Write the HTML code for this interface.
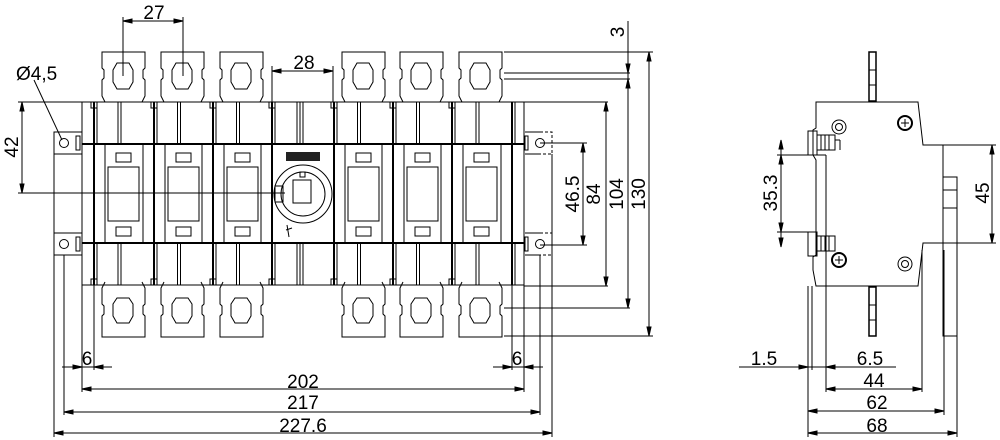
<!DOCTYPE html>
<html><head><meta charset="utf-8"><style>
html,body{margin:0;padding:0;background:#fff;}
svg{display:block;}
text{font-family:"Liberation Sans",sans-serif;font-size:19px;fill:#000;}
</style></head><body>
<svg id="s" width="1000" height="440" viewBox="0 0 1000 440" xmlns="http://www.w3.org/2000/svg">
<g id="g" fill="none" stroke="#000" stroke-width="1"></g>
<g>
<text x="154" y="19" text-anchor="middle">27</text>
<text x="304" y="69" text-anchor="middle">28</text>
<text x="16" y="80">Ø4,5</text>
<text transform="translate(18,147) rotate(-90)" text-anchor="middle">42</text>
<text transform="translate(624,32) rotate(-90)" text-anchor="middle">3</text>
<text transform="translate(579,194) rotate(-90)" text-anchor="middle">46.5</text>
<text transform="translate(600,194) rotate(-90)" text-anchor="middle">84</text>
<text transform="translate(623,194) rotate(-90)" text-anchor="middle">104</text>
<text transform="translate(645,194) rotate(-90)" text-anchor="middle">130</text>
<text x="87" y="365" text-anchor="middle">6</text>
<text x="517" y="365" text-anchor="middle">6</text>
<text x="303" y="388" text-anchor="middle">202</text>
<text x="303" y="409" text-anchor="middle">217</text>
<text x="303" y="432" text-anchor="middle">227.6</text>
<text transform="translate(777,193) rotate(-90)" text-anchor="middle">35.3</text>
<text transform="translate(989,193) rotate(-90)" text-anchor="middle">45</text>
<text x="764" y="365" text-anchor="middle">1.5</text>
<text x="870" y="365" text-anchor="middle">6.5</text>
<text x="874" y="387" text-anchor="middle">44</text>
<text x="877" y="409" text-anchor="middle">62</text>
<text x="877" y="432" text-anchor="middle">68</text>
<rect x="286" y="152" width="34" height="9" fill="#222"/>
</g>
</svg>
<script>
var o='';
function L(a,b,c,d){o+='<line x1="'+a+'" y1="'+b+'" x2="'+c+'" y2="'+d+'"/>';}
function R(x,y,w,h,ex){o+='<rect x="'+x+'" y="'+y+'" width="'+w+'" height="'+h+'" '+(ex||'')+'/>';}
function C(x,y,r,ex){o+='<circle cx="'+x+'" cy="'+y+'" r="'+r+'" '+(ex||'')+'/>';}
function P(d,ex){o+='<path d="'+d+'" '+(ex||'')+'/>';}
function AH(x,y,dir){ // arrow fill
 if(dir=='r')o+='<polygon points="'+x+','+y+' '+(x-9)+','+(y-2)+' '+(x-9)+','+(y+2)+'" fill="#000"/>';
 if(dir=='l')o+='<polygon points="'+x+','+y+' '+(x+9)+','+(y-2)+' '+(x+9)+','+(y+2)+'" fill="#000"/>';
 if(dir=='d')o+='<polygon points="'+x+','+y+' '+(x-2)+','+(y-9)+' '+(x+2)+','+(y-9)+'" fill="#000"/>';
 if(dir=='u')o+='<polygon points="'+x+','+y+' '+(x-2)+','+(y+9)+' '+(x+2)+','+(y+9)+'" fill="#000"/>';
}
function DH(a,b,y){L(a,y,b,y);AH(a,y,'l');AH(b,y,'r');}
function DV(x,a,b){L(x,a,x,b);AH(x,a,'u');AH(x,b,'d');}
// lugs
var lx=[102,161,220,342,400,459];
lx.forEach(function(x){
 var w=43;
 P('M'+(x+3)+',102 L'+x+',96 L'+x+',80 L'+(x+2)+',78 L'+(x+2)+',70 L'+x+',68 L'+x+',52 L'+(x+w)+',52 L'+(x+w)+',68 L'+(x+w-2)+',70 L'+(x+w-2)+',78 L'+(x+w)+',80 L'+(x+w)+',96 L'+(x+w-3)+',102');
 P('M'+(x+3)+',282 L'+x+',288 L'+x+',304 L'+(x+2)+',306 L'+(x+2)+',314 L'+x+',316 L'+x+',337 L'+(x+w)+',337 L'+(x+w)+',316 L'+(x+w-2)+',314 L'+(x+w-2)+',306 L'+(x+w)+',304 L'+(x+w)+',288 L'+(x+w-3)+',282');
 var cx=x+21;
 P('M'+(cx-10)+',70 L'+(cx-6)+',63 L'+(cx+6)+',63 L'+(cx+10)+',70 L'+(cx+10)+',82 L'+(cx+6)+',89 L'+(cx-6)+',89 L'+(cx-10)+',82 Z');
 P('M'+(cx-10)+',304 L'+(cx-6)+',298 L'+(cx+6)+',298 L'+(cx+10)+',304 L'+(cx+10)+',316 L'+(cx+6)+',323 L'+(cx-6)+',323 L'+(cx-10)+',316 Z');
});
// body outline
P('M82,102 L524,102 L524,285 L82,285 Z');
o+='<line x1="82" y1="144" x2="524" y2="144" stroke-width="2"/><line x1="82" y1="243" x2="524" y2="243" stroke-width="2"/>';
var pb=[94,154,213,272,334,393,452,512];
pb.forEach(function(x){o+='<line x1="'+x+'" y1="102" x2="'+x+'" y2="285" stroke-width="2"/>';L(x+3,102,x+3,144);L(x+3,243,x+3,285);});
for(var i=0;i<7;i++){
 var a=pb[i],b=pb[i+1],m=(a+b)/2;
 L(m-6,102,m-6,144);L(m-3,102,m-3,144);L(m-6,243,m-6,285);L(m-3,243,m-3,285);
 // notches top
 R(a-3,102,6,6);R(a-3,279,6,6);
 if(i==3){ // center
  L(m,102,m,144);L(m,243,m,285);
  C(303,194,29);C(303,194,22);R(293,180,18,23);R(300,172,5,5);
  R(275,186,8,16);L(287,225,289,237);L(286,230,292,228);
  continue;}
 L(a+11,144,a+11,243);L(b-11,144,b-11,243);
 R(a+14,167,31,54);R(a+22,153,15,9);R(a+22,227,15,9);
}
// ears
[[54,132],[54,233]].forEach(function(e){R(e[0],e[1],28,22);C(64,e[1]+11,4.5);R(76,e[1]+4,4,14);});
[[525,132],[525,233]].forEach(function(e){L(525,e[1],540,e[1]);L(525,e[1]+22,540,e[1]+22);o+='<path d="M540,'+e[1]+' L552,'+e[1]+' L552,'+(e[1]+22)+' L540,'+(e[1]+22)+'" stroke-dasharray="3,2"/>';C(540,e[1]+11,4.5);R(525,e[1]+4,3,14);});
// top dims
L(123,17,123,76);L(183,17,183,76);DH(123,183,21);
L(272,66,272,102);L(333,66,333,102);DH(272,333,71);
L(34,80,62,140);
L(18,102,82,102);L(18,193,285,193);DV(22,102,193);
// right dims
L(504,52,653,52);L(504,73,630,73);L(504,79,630,79);L(524,102,608,102);L(540,143,587,143);L(540,245,587,245);L(524,286,608,286);L(504,308,630,308);L(504,336,653,336);
DV(649,52,336);L(628,21,628,308);AH(628,73,'d');AH(628,79,'u');AH(628,308,'d');DV(606,102,286);DV(583,143,245);
// bottom dims
L(54,154,54,437);L(552,154,552,437);L(64,255,64,415);L(540,255,540,415);L(82,285,82,392);L(524,285,524,392);L(94,285,94,370);L(512,285,512,370);
L(62,367,112,367);AH(82,367,'r');AH(94,367,'l');L(493,367,543,367);AH(512,367,'r');AH(524,367,'l');
DH(82,524,389);DH(64,540,412);DH(54,552,433);
// side view
R(869,52,7,49,'stroke-width="1.5"');R(869,287,7,49,'stroke-width="1.5"');L(869,70,876,70);L(869,85,876,85);L(869,305,876,305);L(869,320,876,320);
P('M816,102 L918,102 L923,145 L943,145 L943,243 L923,243 L918,286 L816,286 L813,270 L813,257 L816,255 L816,160 L813,155 L813,130 L816,128 Z');
R(943,177,14,159);L(943,190,957,190);L(943,208,957,208);
R(808,131,9,24);R(817,135,18,15);L(821,135,821,150);L(825,135,825,150);L(829,135,829,150);L(835,140,840,140);L(840,140,840,150);
R(808,232,9,24);R(817,236,18,15);L(821,236,821,251);L(825,236,825,251);L(829,236,829,251);
C(839,127,7);C(839,127,3.5);C(905,264,7);C(905,264,3.5);
C(905,123,7,'stroke-width="2"');L(901,123,909,123);L(905,119,905,127);
C(839,260,7,'stroke-width="2"');L(835,260,843,260);L(839,256,839,264);
L(826,155,826,392);L(777,155,826,155);L(777,232,816,232);DV(781,140,247);AH(781,155,'u');AH(781,232,'d');
L(943,145,996,145);L(943,243,996,243);DV(992,145,243);
L(808,286,808,437);L(812,286,812,370);L(922,250,922,392);L(944,250,944,415);L(957,336,957,437);
L(739,367,896,367);AH(808,367,'r');AH(826,367,'l');
DH(826,922,389);DH(808,944,411);DH(808,957,433);
document.getElementById('g').innerHTML=o;
</script>
</body></html>
